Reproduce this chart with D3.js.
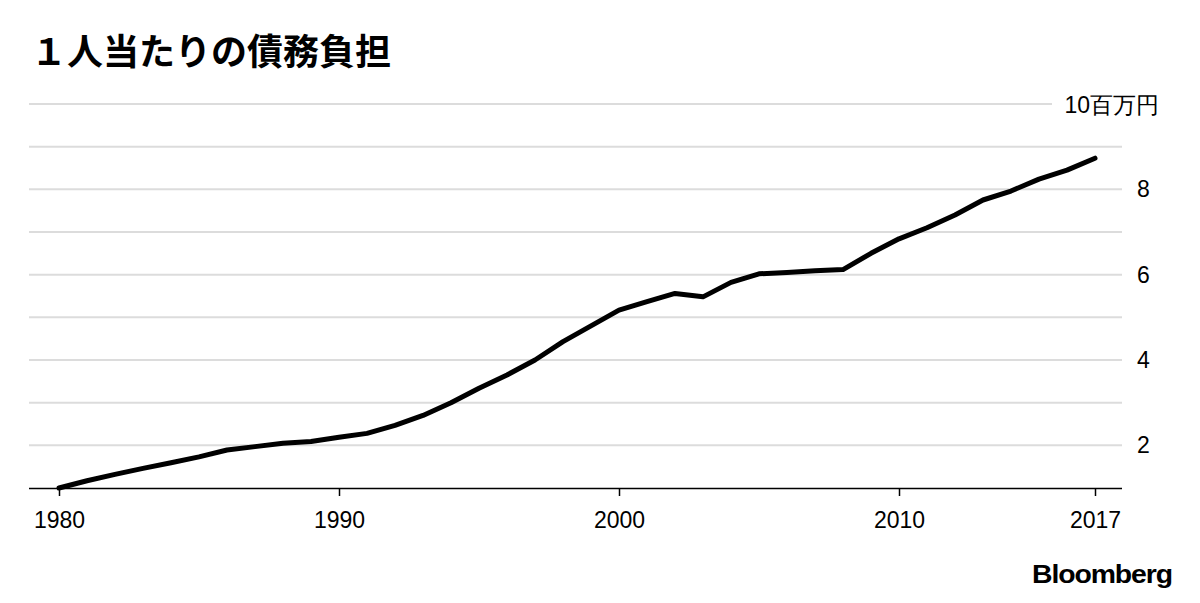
<!DOCTYPE html>
<html><head><meta charset="utf-8">
<script src="https://cdn.jsdelivr.net/npm/d3@7"></script>
<style>
body{margin:0;background:#fff;}
svg{display:block;}
text{font-family:"Liberation Sans",Arial,sans-serif;fill:#000;}
</style></head>
<body><svg id="c" width="1200" height="603"></svg>
<script>
const years = [1980,1981,1982,1983,1984,1985,1986,1987,1988,1989,1990,1991,1992,1993,1994,1995,1996,1997,1998,1999,2000,2001,2002,2003,2004,2005,2006,2007,2008,2009,2010,2011,2012,2013,2014,2015,2016,2017];
const debt = [1.0,1.17,1.32,1.46,1.59,1.73,1.89,1.97,2.05,2.09,2.19,2.28,2.47,2.70,3.0,3.34,3.65,4.0,4.43,4.8,5.17,5.37,5.56,5.48,5.82,6.02,6.05,6.09,6.12,6.5,6.84,7.1,7.4,7.75,7.96,8.24,8.45,8.73];
const xTicks = [1980,1990,2000,2010,2017];
const yGrid = [2,3,4,5,6,7,8,9,10];
const yLabels = [2,4,6,8];
const title = "１人当たりの債務負担";
const unitLabel = "10百万円";

const svg = d3.select("#c");
const x = d3.scaleLinear().domain([1980,2017]).range([59,1095]);
const y = d3.scaleLinear().domain([1,10]).range([488,104]);

svg.append("text").attr("x",31).attr("y",65)
  .style("font-family",'"Noto Sans CJK JP",sans-serif').style("font-weight","700")
  .style("font-size","36px").text(title);

svg.append("g").selectAll("line").data(yGrid).join("line")
  .attr("x1",29).attr("x2",d=>d===10?1052:1122)
  .attr("y1",d=>y(d)).attr("y2",d=>y(d))
  .attr("stroke","#dcdcdc").attr("stroke-width",2);

svg.append("g").selectAll("text").data(yLabels).join("text")
  .attr("x",1137).attr("y",d=>y(d)+8)
  .style("font-size","23px").text(d=>d);

svg.append("text").attr("x",1159).attr("y",y(10)+9).attr("text-anchor","end")
  .style("font-size","23px").text(unitLabel);

const xa = svg.append("g").attr("transform","translate(0,488)")
  .call(d3.axisBottom(x).tickValues(xTicks).tickFormat(d3.format("d")).tickSize(8).tickSizeOuter(0));
xa.select(".domain").attr("d","M29,0.5H1122").attr("stroke","#000").attr("stroke-width",1.5);
xa.selectAll(".tick line").attr("stroke","#000").attr("stroke-width",1.5);
xa.selectAll(".tick text").attr("y",24).attr("dy","0.71em")
  .style("font-family",'"Liberation Sans",Arial,sans-serif').style("font-size","23px").attr("fill","#000");

const line = d3.line().x((d,i)=>x(years[i])).y(d=>y(d));
svg.append("path").datum(debt).attr("d",line)
  .attr("fill","none").attr("stroke","#000").attr("stroke-width",5)
  .attr("stroke-linejoin","round").attr("stroke-linecap","round");

svg.append("text").attr("x",1032).attr("y",583)
  .attr("textLength",140).attr("lengthAdjust","spacingAndGlyphs")
  .style("font-size","26px").style("font-weight","700").style("letter-spacing","-1px").text("Bloomberg");
</script></body></html>
